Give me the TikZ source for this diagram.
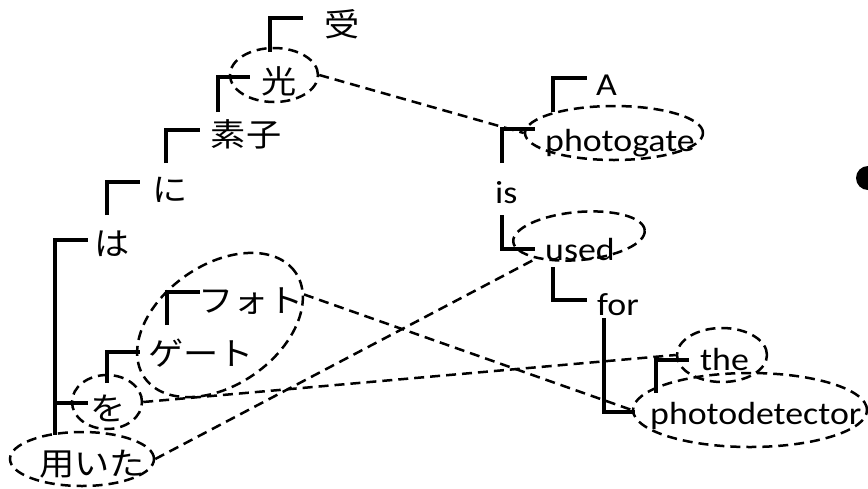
\documentclass[tikz,border=0pt]{standalone}
\usepackage{fontspec}
\setmainfont{Carlito}[FakeStretch=1.12]
\newfontfamily\jp{Noto Sans CJK JP}[FakeStretch=1.1]
\usetikzlibrary{shapes.geometric}
\tikzset{
  en/.style={inner sep=0pt, anchor=base west, font=\fontsize{32}{36}\selectfont},
  jn/.style={inner sep=0pt, anchor=center, font=\jp\fontsize{32}{36}\selectfont},
  brk/.style={line width=3.8pt},
  dsh/.style={line width=2.5pt, dash pattern=on 10pt off 6pt},
  ell/.style={dsh, draw, ellipse, inner sep=0pt},
}
\newcommand{\ellnode}[5]{\node[ell, minimum width=#3pt, minimum height=#4pt, rotate=#5] (#1) at (#2) {};}
\begin{document}
\begin{tikzpicture}[x=1pt, y=-1pt]
\useasboundingbox (0,0) rectangle (868,488);
\clip (0,0) rectangle (868,488);
% Japanese words
\node[jn] (uke) at (342,24) {受};
\node[jn] (hikari) at (279,81) {光};
\node[jn] (soshi) at (246,134) {素子};
\node[jn] (ni) at (170,190) {に};
\node[jn] (ha) at (112,244) {は};
\node[jn] (foto) at (251,301) {フォト};
\node[jn] (geeto) at (201,353) {ゲート};
\node[jn] (wo) at (108,408) {を};
\node[jn] (mochiita) at (92,464) {用いた};
% English words
\node[en] (A) at (596,95) {A};
\node[en] (photogate) at (545,151) {photogate};
\node[en] (is) at (495,203) {is};
\node[en] (used) at (545,260) {used};
\node[en] (for) at (597,315) {for};
\node[en] (the) at (700,370) {the};
\node[en] (photodetector) at (650,424) {photodetector};
% ellipses
\ellnode{eHikari}{274,75}{88}{54}{0}
\ellnode{eFG}{220,325}{184}{120}{35}
\ellnode{eWo}{107,402}{70}{54}{0}
\ellnode{eMochi}{82,459}{144}{54}{0}
\ellnode{ePG}{614,133}{178}{54}{0}
\ellnode{eUsed}{579,236}{132}{48}{5}
\ellnode{eThe}{722,355}{90}{54}{0}
\ellnode{ePD}{750,410}{234}{74}{0}
% brackets
\draw[brk] (270,52) -- (270,18) -- (303,18);
\draw[brk] (218,112) -- (218,77) -- (250,77);
\draw[brk] (166,163) -- (166,130) -- (200,130);
\draw[brk] (107,215) -- (107,182) -- (140,182);
\draw[brk] (55,435) -- (55,240) -- (88,240);
\draw[brk] (55,403) -- (88,403);
\draw[brk] (167,325) -- (167,292) -- (200,292);
\draw[brk] (107,383) -- (107,352) -- (140,352);
\draw[brk] (553,112) -- (553,78) -- (587,78);
\draw[brk] (502,163) -- (502,129) -- (535,129);
\draw[brk] (502,215) -- (502,249) -- (535,249);
\draw[brk] (553,267) -- (553,300) -- (587,300);
\draw[brk] (604,318) -- (604,412) -- (635,412);
\draw[brk] (656,393) -- (656,360) -- (689,360);
% alignment links
\draw[dsh] (eHikari.east) -- (ePG.west);
\draw[dsh] (eFG.-15) -- (ePD.west);
\draw[dsh] (eWo.east) -- (eThe.west);
\draw[dsh] (eMochi.east) -- (eUsed);
% bullet
\fill (868,178) circle (12);
\end{tikzpicture}
\end{document}
